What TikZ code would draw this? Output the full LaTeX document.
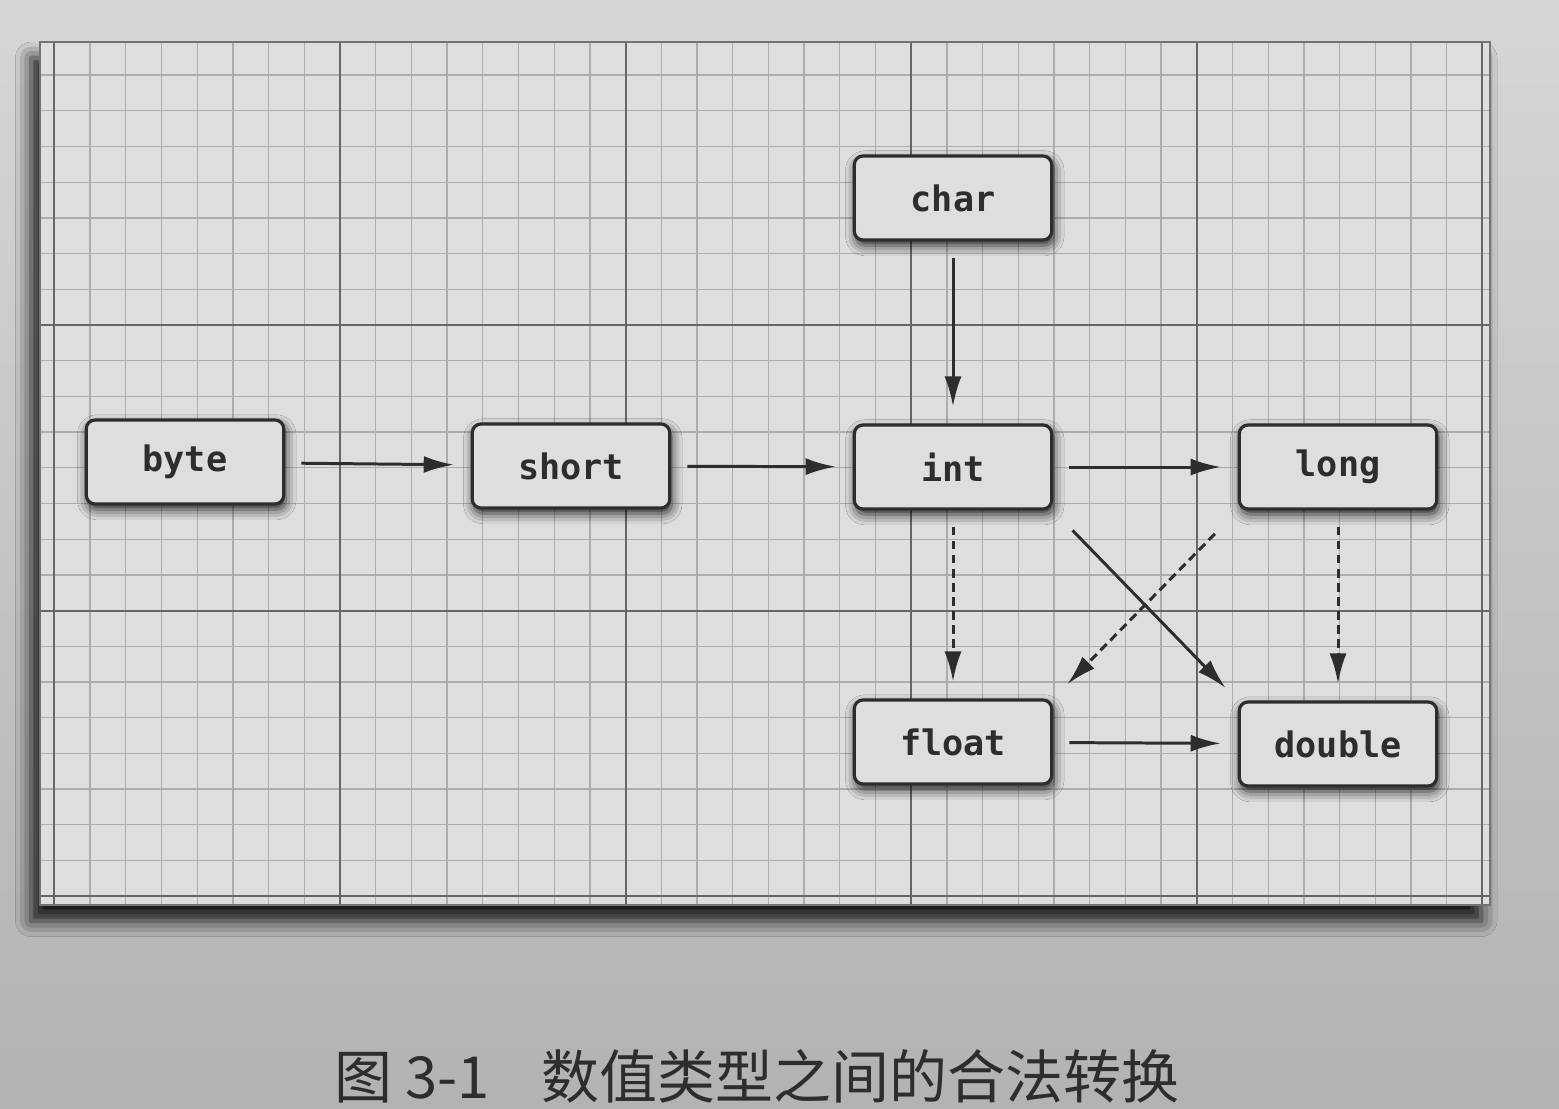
\documentclass[tikz,border=0pt]{standalone}
\usepackage{fontspec}
\setmonofont{DejaVu Sans Mono}
\newfontfamily\cjk{Noto Sans CJK SC}
\definecolor{PaperGray}{RGB}{222,222,224}
\definecolor{InkGray}{RGB}{45,45,45}
\usetikzlibrary{positioning,arrows.meta,graphs,shadows.blur}
\tikzset{>={Latex[length=6mm,width=3.4mm]}}
\tikzset{typenode/.style={rectangle,rounded corners=5pt,draw=InkGray,line width=1.8pt,fill=PaperGray,minimum width=3.95cm,minimum height=1.68cm,text=InkGray,font=\ttfamily\bfseries\fontsize{20}{24}\selectfont,blur shadow={shadow xshift=1pt,shadow yshift=-3pt,shadow blur radius=6pt,shadow opacity=85}}}
\tikzset{convedge/.style={line width=1.7pt,draw=InkGray,shorten >=0.34cm,shorten <=0.32cm}}
\tikzset{lossyedge/.style={convedge,dash pattern=on 5pt off 3pt}}
\tikzset{minorline/.style={black!32,line width=0.7pt}}
\tikzset{majorline/.style={black!60,line width=1.1pt}}
\tikzset{graphs/typegraph/.style={nodes={typenode},edges={convedge}}}

\begin{document}
\begin{tikzpicture}[x=0.02cm,y=-0.02cm]
  % photographed page
  \shade[top color=black!16,bottom color=black!30] (0,0) rectangle (1559,1109);
  \useasboundingbox (0,0) rectangle (1559,1109);
  % grid panel
  \path[fill=PaperGray,blur shadow={shadow xshift=-5pt,shadow yshift=-9pt,shadow blur radius=9pt,shadow opacity=90}] (40,42) rectangle (1490,905);
  \begin{scope}
    \clip (40,42) rectangle (1490,905);
    \foreach \i in {-9,...,33}
      \draw[minorline] ({340+35.7*\i},0) -- ++(0,1000);
    \foreach \j in {-9,...,17}
      \draw[minorline] (0,{325+35.7*\j}) -- ++(1600,0);
    \foreach \i in {-8,0,...,32}
      \draw[majorline] ({340+35.7*\i},0) -- ++(0,1000);
    \foreach \j in {-8,0,...,16}
      \draw[majorline] (0,{325+35.7*\j}) -- ++(1600,0);
  \end{scope}
  \draw[black!55,line width=1pt] (40,42) rectangle (1490,905);

  \graph[no placement, typegraph]{
    byte[at={(185,462)}];
    short[at={(571,466)}];
    int[at={(953,467)}];
    long[at={(1338,467)}];
    char[at={(953,198)}];
    float[at={(953,742)}];
    double[at={(1338,744)}];
    byte -> short -> int -> long;
    char -> int;
    float -> double;
    int ->[lossyedge] float;
    long ->[lossyedge] double;
  };
  \draw[->,convedge,shorten <=0.55cm,shorten >=0.35cm] (int.south east) -- (double.north west);
  \draw[->,lossyedge,shorten <=0.65cm,shorten >=0.4cm] (long.south west) -- (float.north east);

  \node[anchor=west,text=InkGray,font=\cjk\fontsize{33}{38}\selectfont] (caption) at (328,1076) {图 3-1\hspace{0.9em}数值类型之间的合法转换};
\end{tikzpicture}
\end{document}
